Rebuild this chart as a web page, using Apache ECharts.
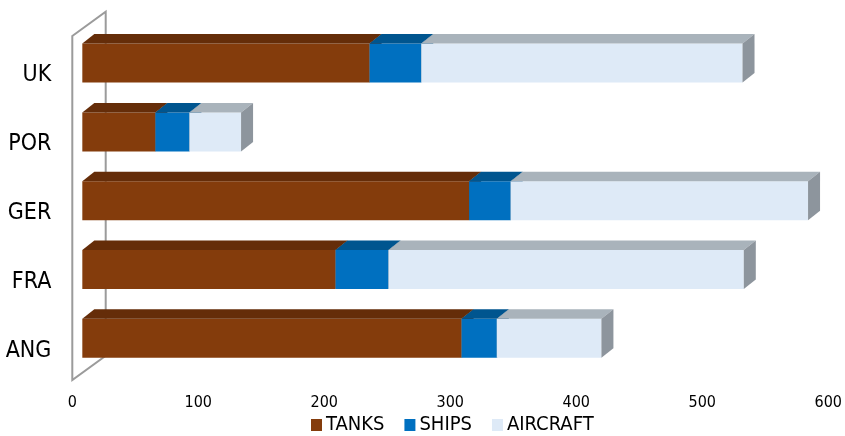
<!DOCTYPE html>
<html>
<head>
<meta charset="utf-8">
<script src="https://cdn.jsdelivr.net/npm/echarts@6/dist/echarts.min.js"></script>
<style>
  html, body { margin: 0; padding: 0; background: #fff; }
  #chart { width: 845px; height: 436px; }
</style>
</head>
<body>
<div id="chart"></div>
<script>
// Categories listed bottom-to-top on the category axis
const categories = ['ANG', 'FRA', 'GER', 'POR', 'UK'];
const tanks    = [301, 201, 307, 58, 228];
const ships    = [28, 42, 33, 27, 41];
const aircraft = [83, 282, 236, 41, 255];
const seriesNames = ['TANKS', 'SHIPS', 'AIRCRAFT'];
const valueTicks = { min: 0, max: 600, interval: 100 };

const FONT = "'DejaVu Sans Condensed', 'DejaVu Sans', sans-serif";

// Face colours for each series: front, top, side
const palette = [
  { front: '#843C0C', top: '#652D09', side: '#5A2808' },
  { front: '#0070C0', top: '#00558F', side: '#004A7E' },
  { front: '#DEEAF7', top: '#A9B3BB', side: '#8D959D' }
];

// Oblique depth of the chart box and of the bars inside it
const WALL_DX = 33.4, WALL_DY = -24.3;
const BAR_FRAC = 0.30;          // bars sit this far back into the box
const BAR_DX = 12, BAR_DY = -9.5;
const BAR_RATIO = 0.567;        // bar thickness relative to the category band

// Stack bases from the raw series
const stacks = [tanks, ships, aircraft];
const bases = stacks.map((arr, s) => arr.map((v, i) => {
  let b = 0;
  for (let k = 0; k < s; k++) b += stacks[k][i];
  return b;
}));

function barRenderer(colors) {
  return function (params, api) {
    const cat = api.value(0), base = api.value(1), val = api.value(2);
    const p0 = api.coord([base, cat]);
    const p1 = api.coord([base + val, cat]);
    const band = api.size([0, 1])[1];
    const h = band * BAR_RATIO;
    const sx = WALL_DX * BAR_FRAC, sy = WALL_DY * BAR_FRAC;
    const x0 = p0[0] + sx, x1 = p1[0] + sx, yc = p0[1] + sy;
    const yT = yc - h / 2, yB = yc + h / 2;
    return {
      type: 'group',
      children: [
        { type: 'rect', shape: { x: x0, y: yT, width: x1 - x0, height: h },
          style: { fill: colors.front } },
        { type: 'polygon', shape: { points: [[x0, yT], [x0 + BAR_DX, yT + BAR_DY], [x1 + BAR_DX, yT + BAR_DY], [x1, yT]] },
          style: { fill: colors.top } },
        { type: 'polygon', shape: { points: [[x1, yT], [x1 + BAR_DX, yT + BAR_DY], [x1 + BAR_DX, yB + BAR_DY], [x1, yB]] },
          style: { fill: colors.side } }
      ]
    };
  };
}

// Back wall of the box along the zero line
function wallRenderer(params, api) {
  const cs = params.coordSys;
  const x0 = api.coord([0, 0])[0];
  const top = cs.y, bot = cs.y + cs.height;
  return {
    type: 'polygon',
    shape: { points: [[x0, top], [x0 + WALL_DX, top + WALL_DY], [x0 + WALL_DX, bot + WALL_DY], [x0, bot]] },
    style: { fill: 'none', stroke: '#9B9B9B', lineWidth: 2 },
    silent: true
  };
}

const series = [{
  type: 'custom',
  name: 'wall',
  renderItem: wallRenderer,
  data: [[0]],
  silent: true,
  z: 1
}];
seriesNames.forEach((name, s) => {
  series.push({
    type: 'custom',
    name: name,
    renderItem: barRenderer(palette[s]),
    itemStyle: { color: palette[s].front },
    encode: { x: [1, 2], y: 0 },
    data: stacks[s].map((v, i) => [i, bases[s][i], v]),
    z: 2 + s
  });
});

const chart = echarts.init(document.getElementById('chart'), null, { renderer: 'canvas' });
chart.setOption({
  animation: false,
  backgroundColor: '#ffffff',
  grid: { left: 72.3, right: 15.3, top: 36, bottom: 56, containLabel: false },
  xAxis: {
    type: 'value',
    min: valueTicks.min, max: valueTicks.max, interval: valueTicks.interval,
    axisLine: { show: false }, axisTick: { show: false }, splitLine: { show: false },
    axisLabel: { color: '#000', fontFamily: FONT, fontSize: 16, margin: 15 }
  },
  yAxis: {
    type: 'category',
    data: categories,
    axisLine: { show: false }, axisTick: { show: false }, splitLine: { show: false },
    axisLabel: { color: '#000', fontFamily: FONT, fontSize: 23, margin: 21, verticalAlign: 'top', lineHeight: 10 }
  },
  legend: {
    data: seriesNames,
    left: 311, top: 415, padding: 0,
    icon: 'rect', itemWidth: 11, itemHeight: 12, itemGap: 20,
    textStyle: { color: '#000', fontFamily: FONT, fontSize: 20, padding: [0, 0, 0, -1] },
    selectedMode: false
  },
  series: series
});
</script>
</body>
</html>
